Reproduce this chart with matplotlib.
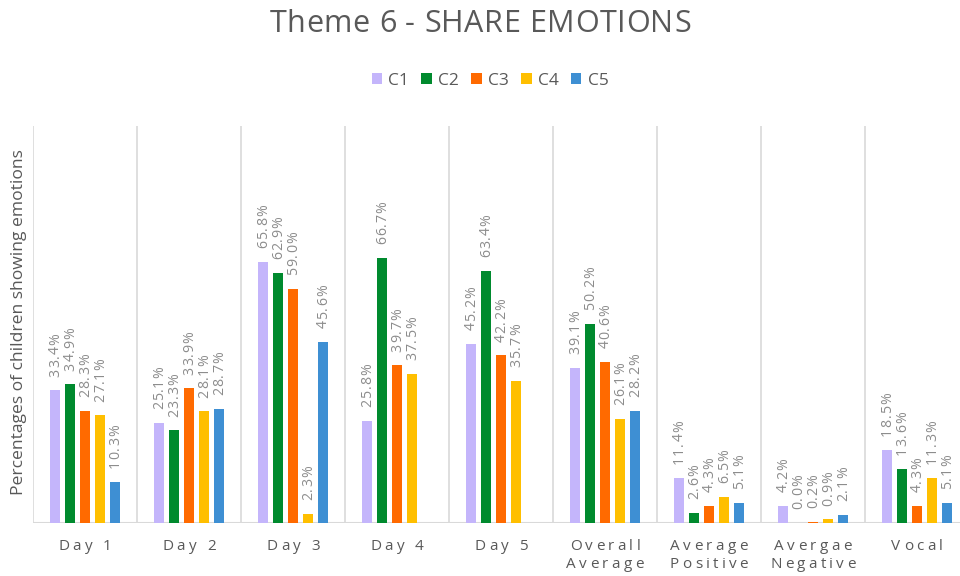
import numpy as np
import matplotlib
matplotlib.use("Agg")
import matplotlib.pyplot as plt
from matplotlib.patches import Patch
from matplotlib.font_manager import FontProperties
from matplotlib.transforms import offset_copy

categories = ["Day 1", "Day 2", "Day 3", "Day 4", "Day 5",
              "Overall\nAverage", "Average\nPositive", "Avergae\nNegative", "Vocal"]
series_names = ["C1", "C2", "C3", "C4", "C5"]
c1 = [33.4, 25.1, 65.8, 25.8, 45.2, 39.1, 11.4, 4.2, 18.5]
c2 = [34.9, 23.3, 62.9, 66.7, 63.4, 50.2, 2.6, 0.0, 13.6]
c3 = [28.3, 33.9, 59.0, 39.7, 42.2, 40.6, 4.3, 0.2, 4.3]
c4 = [27.1, 28.1, 2.3, 37.5, 35.7, 26.1, 6.5, 0.9, 11.3]
c5 = [10.3, 28.7, 45.6, np.nan, np.nan, 28.2, 5.1, 2.1, 5.1]
colors = ["#C4B5FB", "#008A2E", "#FF6A00", "#FFBF00", "#3E8FD3"]

FAM = ['Open Sans', 'DejaVu Sans']
plt.rcParams['font.family'] = FAM
dark = "#595959"
label_grey = "#8C8C8C"

fig = plt.figure(figsize=(9.6, 5.76), dpi=100)
renderer = fig.canvas.get_renderer()


def text_w(s, prop):
    w, h, d = renderer.get_text_width_height_descent(s, prop, ismath=False)
    return w * 72.0 / fig.dpi


def advances(line, prop):
    base = text_w("xx", prop)
    return [text_w("x" + ch + "x", prop) - base for ch in line]


def spaced_text(x, y, s, transform, size, spacing, color, va="center", line_gap=None, **kw):
    prop = FontProperties(family=FAM, size=size)
    lines = s.split("\n")
    if line_gap is None:
        line_gap = size * 1.45
    for li, line in enumerate(lines):
        adv = advances(line, prop)
        total = sum(adv) + spacing * (len(line) - 1)
        pos = -total / 2.0
        for ch, a in zip(line, adv):
            tr = offset_copy(transform, fig=fig, x=pos, y=-li * line_gap, units="points")
            fig.text(x, y, ch, transform=tr, ha="left", va=va, fontsize=size,
                     color=color, **kw)
            pos += a + spacing


def vertical_label(axis, x, y, s, size, spacing, color, gap_pts):
    prop = FontProperties(family=FAM, size=size)
    adv = advances(s, prop)
    pos = gap_pts
    for ch, a in zip(s, adv):
        tr = offset_copy(axis.transData, fig=fig, x=0, y=pos, units="points")
        axis.text(x, y, ch, transform=tr, rotation=90, ha="center", va="bottom",
                  fontsize=size, color=color, zorder=4)
        pos += a + spacing


ax = fig.add_axes([33/960, 1 - 523/576, 936/960, (523-126)/576])

series = [c1, c2, c3, c4, c5]
x = np.arange(len(categories))
step = 0.144
width = 0.088
for i, (vals, col) in enumerate(zip(series, colors)):
    pos = x + (i - 2) * step
    v = np.array(vals, dtype=float)
    mask = ~np.isnan(v)
    ax.bar(pos[mask], v[mask], width=width, color=col, zorder=3)
    for px, val in zip(pos[mask], v[mask]):
        vertical_label(ax, px + 0.006, val, f"{val:.1f}%", 10.2, 0.7, label_grey, 10.0)

ax.set_xlim(-0.5, len(categories) - 0.5)
ax.set_ylim(0, 100)
ax.set_yticks([])
ax.set_xticks([])
for b in np.arange(-0.5, len(categories), 1.0):
    ax.axvline(b, color="#D9D9D9", lw=1.2, zorder=1)
for s in ax.spines.values():
    s.set_visible(False)
ax.axhline(0, color="#D9D9D9", lw=1.5, zorder=2)

for xi, lab in zip(x, categories):
    spaced_text(xi, -6.0, lab, ax.transData, 11, 2.4, dark, va="center",
                line_gap=12.6, clip_on=False)

ax.set_ylabel("Percentages of children showing emotions", fontsize=12.6, color=dark)
ax.yaxis.set_label_coords(-6/936, (523 - 322) / 397)

spaced_text(0.5, 1 - 24/576, "Theme 6 - SHARE EMOTIONS", fig.transFigure, 22, 0.4, dark,
            va="center")

handles = [Patch(facecolor=c, label=n) for c, n in zip(colors, series_names)]
fig.legend(handles=handles, loc="center", bbox_to_anchor=(490/960, 1 - 81/576), ncol=5,
           frameon=False, fontsize=12.5, handlelength=0.6, handleheight=0.6,
           handletextpad=0.35, columnspacing=0.72, labelcolor=dark)

fig.savefig("out.png", dpi=100)
